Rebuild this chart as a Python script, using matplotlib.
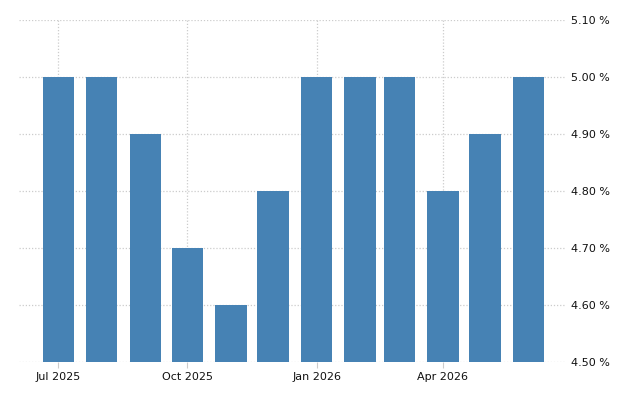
import datetime as dt
import matplotlib
matplotlib.use('Agg')
import matplotlib.pyplot as plt
import matplotlib.dates as mdates
from matplotlib.ticker import FuncFormatter

months = ['2025-07', '2025-08', '2025-09', '2025-10', '2025-11', '2025-12',
          '2026-01', '2026-02', '2026-03', '2026-04', '2026-05', '2026-06']
rates = [5.0, 5.0, 4.9, 4.7, 4.6, 4.8, 5.0, 5.0, 5.0, 4.8, 4.9, 5.0]
y_ticks = [4.5, 4.6, 4.7, 4.8, 4.9, 5.0, 5.1]
x_ticks = ['2025-07', '2025-10', '2026-01', '2026-04']

dates = [dt.datetime.strptime(m, '%Y-%m') for m in months]
tick_dates = [dt.datetime.strptime(m, '%Y-%m') for m in x_ticks]

fig = plt.figure(figsize=(6.4, 4), dpi=100)
ax = fig.add_axes([19/640, 38/400, 546/640, 342/400])

ax.bar(dates, [r - 4.5 for r in rates], bottom=4.5, width=22.3,
       color='#4682b4', zorder=2)

ax.set_xlim(dt.datetime(2025, 6, 3), dt.datetime(2026, 6, 27))
ax.set_ylim(4.5, 5.1)
ax.set_yticks(y_ticks)
ax.yaxis.set_major_formatter(FuncFormatter(lambda v, p: f'{v:.2f} %'))
ax.yaxis.tick_right()
ax.set_xticks(tick_dates)
ax.xaxis.set_major_formatter(mdates.DateFormatter('%b %Y'))

ax.grid(True, color='#cccccc', linestyle=(0, (1, 1.5)), linewidth=0.9, zorder=0)
for s in ax.spines.values():
    s.set_visible(False)
ax.tick_params(axis='y', length=0, pad=4, labelsize=8, labelcolor='#111111')
ax.tick_params(axis='x', length=4, color='#cccccc', pad=3, labelsize=8,
               labelcolor='#111111')

fig.savefig('out.png', dpi=100)
